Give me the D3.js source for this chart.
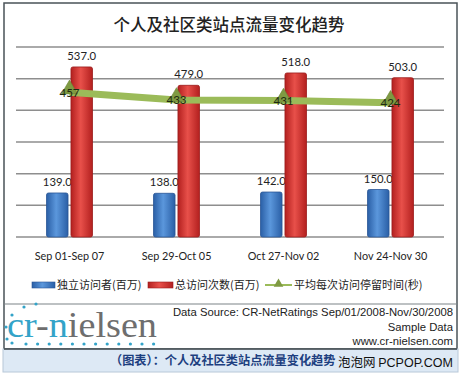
<!DOCTYPE html>
<html>
<head>
<meta charset="utf-8">
<script src="https://cdn.jsdelivr.net/npm/d3@7"></script>
<style>
  html, body { margin: 0; padding: 0; background: #fff; }
  svg { display: block; }
</style>
</head>
<body>
<div id="chart"></div>
<script>
'use strict';

var categories = ['Sep 01-Sep 07', 'Sep 29-Oct 05', 'Oct 27-Nov 02', 'Nov 24-Nov 30'];
var visitors = [139, 138, 142, 150];
var visits = [537, 479, 518, 503];
var avgTime = [457, 433, 431, 424];
var yTicks = [0, 100, 200, 300, 400, 500, 600];
var seriesNames = ['独立访问者(百万)', '总访问次数(百万)', '平均每次访问停留时间(秒)'];

var w = 459, h = 375;
var cjk = '"Noto Sans CJK SC", sans-serif';
var latin = 'Lato, "Open Sans", sans-serif';
var arial = '"Liberation Sans", Arial, sans-serif';

var svg = d3.select('#chart').append('svg')
  .attr('width', w)
  .attr('height', h);

var defs = svg.append('defs');

function barGradient(id, edge, mid) {
  var g = defs.append('linearGradient').attr('id', id)
    .attr('x1', 0).attr('x2', 1).attr('y1', 0).attr('y2', 0);
  g.append('stop').attr('offset', '0%').attr('stop-color', edge);
  g.append('stop').attr('offset', '45%').attr('stop-color', mid);
  g.append('stop').attr('offset', '100%').attr('stop-color', edge);
}
barGradient('gBlue', '#2a5fa6', '#5b97dc');
barGradient('gRed', '#b3201f', '#e8504a');

// frame
svg.append('rect')
  .attr('x', 4).attr('y', 3).attr('width', 453).attr('height', 346)
  .attr('fill', '#fff').attr('stroke', '#4a5358').attr('stroke-width', 1.5);

// title
svg.append('text')
  .attr('x', 229).attr('y', 31)
  .attr('text-anchor', 'middle')
  .attr('font-family', cjk)
  .attr('font-size', 16.5)
  .attr('font-weight', 500)
  .attr('fill', '#222')
  .text('个人及社区类站点流量变化趋势');

var x = d3.scaleBand().domain(categories).range([16, 444]);
var sub = d3.scaleBand().domain([0, 1]).range([-23, 23]).paddingInner(0.12);
var y = d3.scaleLinear().domain([0, 600]).range([237, 47]);

// gridlines
svg.append('g').selectAll('line')
  .data(yTicks)
  .join('line')
  .attr('x1', 16).attr('x2', 444)
  .attr('y1', function (d) { return y(d); })
  .attr('y2', function (d) { return y(d); })
  .attr('stroke', '#8e8e8e')
  .attr('stroke-width', 1.5);

// x axis labels
var xAxis = svg.append('g')
  .attr('transform', 'translate(0,' + y(0) + ')')
  .call(d3.axisBottom(x).tickSize(0).tickPadding(15));
xAxis.select('.domain').remove();
xAxis.selectAll('text')
  .attr('font-family', latin)
  .attr('font-size', 10.8)
  .attr('fill', '#222');

function cx(i) { return x(categories[i]) + x.bandwidth() / 2; }

// bars
var bars = [
  { values: visitors, fill: 'url(#gBlue)', stroke: '#2a5596', k: 0 },
  { values: visits, fill: 'url(#gRed)', stroke: '#9c1c1c', k: 1 }
];
bars.forEach(function (s) {
  var g = svg.append('g');
  g.selectAll('rect')
    .data(s.values)
    .join('rect')
    .attr('x', function (d, i) { return cx(i) + sub(s.k); })
    .attr('y', function (d) { return y(d); })
    .attr('width', sub.bandwidth())
    .attr('height', function (d) { return y(0) - y(d); })
    .attr('rx', 2)
    .attr('fill', s.fill)
    .attr('stroke', s.stroke)
    .attr('stroke-width', 0.8);
  g.selectAll('text')
    .data(s.values)
    .join('text')
    .attr('x', function (d, i) { return cx(i) + sub(s.k) + sub.bandwidth() / 2; })
    .attr('y', function (d) { return y(d) - 7; })
    .attr('text-anchor', 'middle')
    .attr('font-family', latin)
    .attr('font-size', 11.3)
    .attr('fill', '#222')
    .text(function (d) { return d.toFixed(1); });
});

// line series
var green = '#9bbb59';
var line = d3.line()
  .x(function (d, i) { return cx(i); })
  .y(function (d) { return y(d); });
svg.append('path')
  .datum(avgTime)
  .attr('d', line)
  .attr('fill', 'none')
  .attr('stroke', green)
  .attr('stroke-width', 7);

var tri = d3.symbol().type(d3.symbolTriangle).size(110);
svg.append('g').selectAll('path')
  .data(avgTime)
  .join('path')
  .attr('transform', function (d, i) { return 'translate(' + cx(i) + ',' + (y(d) - 3) + ')'; })
  .attr('d', tri)
  .attr('fill', '#7f9a42')
  .attr('stroke', '#6b8436')
  .attr('stroke-width', 0.6);

svg.append('g').selectAll('text')
  .data(avgTime)
  .join('text')
  .attr('x', function (d, i) { return cx(i); })
  .attr('y', function (d) { return y(d) + 4.5; })
  .attr('text-anchor', 'middle')
  .attr('font-family', latin)
  .attr('font-size', 11.5)
  .attr('fill', '#1e2a10')
  .text(function (d) { return d; });

// legend
var legend = svg.append('g').attr('font-family', cjk).attr('font-size', 11).attr('fill', '#222');
legend.append('rect').attr('x', 32).attr('y', 282).attr('width', 23).attr('height', 6)
  .attr('fill', 'url(#gBlue)').attr('stroke', '#2a5596').attr('stroke-width', 0.6);
legend.append('text').attr('x', 57).attr('y', 289).text(seriesNames[0]);
legend.append('rect').attr('x', 148).attr('y', 282).attr('width', 25).attr('height', 6)
  .attr('fill', 'url(#gRed)').attr('stroke', '#9c1c1c').attr('stroke-width', 0.6);
legend.append('text').attr('x', 175).attr('y', 289).text(seriesNames[1]);
legend.append('line').attr('x1', 265).attr('x2', 292).attr('y1', 285).attr('y2', 285)
  .attr('stroke', green).attr('stroke-width', 2);
legend.append('path').attr('transform', 'translate(278.5,284)')
  .attr('d', d3.symbol().type(d3.symbolTriangle).size(40))
  .attr('fill', '#7f9a42');
legend.append('text').attr('x', 294).attr('y', 289).text(seriesNames[2]);

// separator
svg.append('line').attr('x1', 4).attr('x2', 457).attr('y1', 304).attr('y2', 304)
  .attr('stroke', '#7c8488').attr('stroke-width', 1.2);

// logo
var teal = '#33a3c8';
var logo = svg.append('text')
  .attr('x', 7).attr('y', 337)
  .attr('font-family', '"Liberation Serif", "DejaVu Serif", serif')
  .attr('font-size', 36)
  .attr('textLength', 150)
  .attr('lengthAdjust', 'spacingAndGlyphs')
  .attr('fill', '#6e6e6e');
logo.append('tspan').attr('fill', teal).text('cr');
logo.append('tspan').text('-');
logo.append('tspan').attr('fill', teal).text('n');
logo.append('tspan').text('ielsen');

var dots = [[24, 307], [36, 304], [12, 315], [6, 327], [7, 339], [12, 343]];
for (var i = 0; i < 12; i++) { dots.push([26 + i * 11.6, 344]); }
svg.append('g').selectAll('circle')
  .data(dots)
  .join('circle')
  .attr('cx', function (d) { return d[0]; })
  .attr('cy', function (d) { return d[1]; })
  .attr('r', 1.6)
  .attr('fill', teal);

// source text
var src = svg.append('g')
  .attr('font-family', arial)
  .attr('font-size', 11.3)
  .attr('fill', '#222')
  .attr('text-anchor', 'end');
src.append('text').attr('x', 453).attr('y', 316).text('Data Source: CR-NetRatings Sep/01/2008-Nov/30/2008');
src.append('text').attr('x', 453).attr('y', 331).text('Sample Data');
src.append('text').attr('x', 453).attr('y', 345).text('www.cr-nielsen.com');

// bottom caption band
svg.append('rect')
  .attr('x', 3).attr('y', 349).attr('width', 455).attr('height', 23)
  .attr('fill', '#dde9f5').attr('stroke', '#b8c8d8').attr('stroke-width', 1);
svg.append('line').attr('x1', 4).attr('x2', 457).attr('y1', 349).attr('y2', 349)
  .attr('stroke', '#3c4448').attr('stroke-width', 1.5);
svg.append('text')
  .attr('x', 110).attr('y', 365)
  .attr('font-family', cjk)
  .attr('font-size', 12.2)
  .attr('font-weight', 'bold')
  .attr('fill', '#1d3f80')
  .text('（图表）：个人及社区类站点流量变化趋势');
var wm = svg.append('text')
  .attr('x', 453).attr('y', 367)
  .attr('text-anchor', 'end')
  .attr('font-size', 12.5)
  .attr('fill', '#111');
wm.append('tspan').attr('font-family', cjk).text('泡泡网 ');
wm.append('tspan').attr('font-family', arial).text('PCPOP.COM');
</script>
</body>
</html>
